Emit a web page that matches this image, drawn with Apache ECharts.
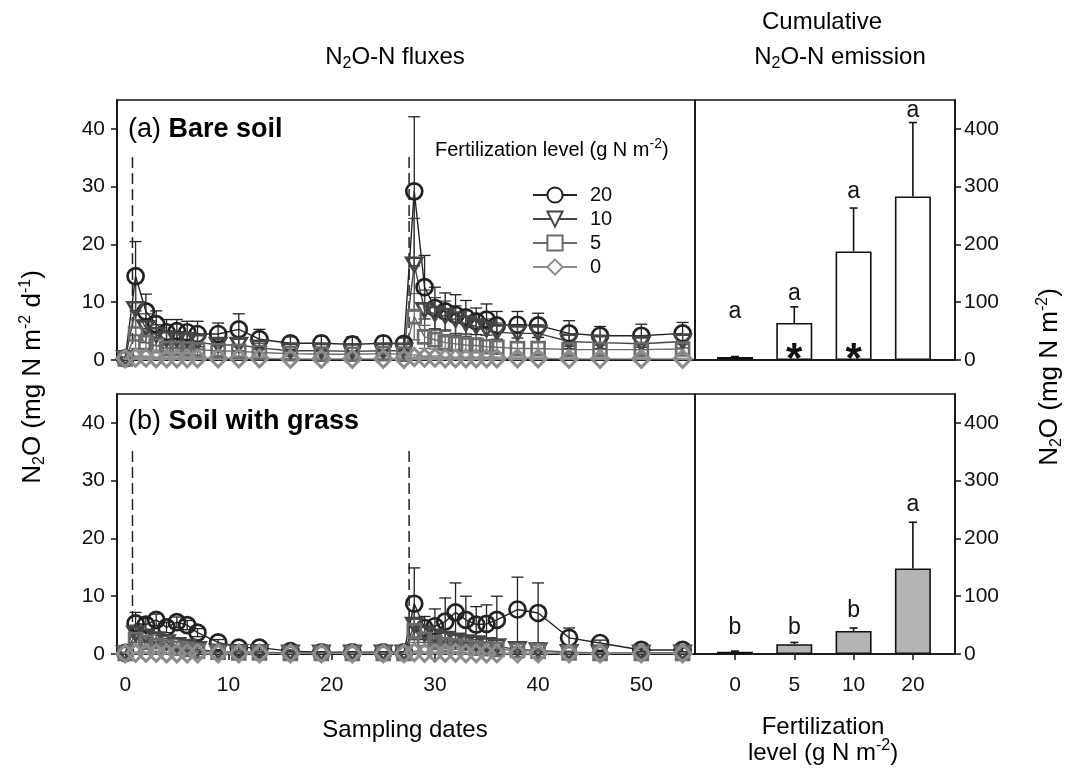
<!DOCTYPE html>
<html>
<head>
<meta charset="utf-8">
<script src="https://cdn.jsdelivr.net/npm/echarts@6/dist/echarts.min.js"></script>
<style>html,body{margin:0;padding:0;background:#fff}#c{width:1074px;height:774px}</style>
</head>
<body>
<div id="c"></div>
<script>
// ---------- data ----------
const dates = [0,1,2,3,4,5,6,7,9,11,13,16,19,22,25,27,28,29,30,31,32,33,34,35,36,38,40,43,46,50,54];
const fertDays = [0.7, 27.5];
const fertLevels = ['20','10','5','0'];

// (a) Bare soil fluxes (mg N m-2 d-1)
const bare20 = [0.3,14.5,8.4,6.2,4.8,5.0,4.8,4.5,4.5,5.3,3.6,2.9,2.9,2.7,2.9,2.8,29.2,12.6,9.0,8.4,7.8,7.4,6.7,7.0,6.0,6.1,6.0,4.6,4.2,4.2,4.6];
const bare20Err = [0.3,6.0,3.0,2.3,2.2,2.0,1.9,2.2,1.9,2.7,1.7,1.1,1.2,1.3,1.2,1.0,12.9,5.5,3.6,3.2,3.5,2.9,2.3,2.7,2.4,2.3,2.1,2.2,1.6,2.0,1.9];
const bare10 = [0.3,8.8,5.5,4.3,3.6,3.5,3.4,3.1,2.6,2.6,2.1,1.6,1.6,1.5,1.6,1.6,16.5,8.6,8.0,7.6,7.0,6.3,5.8,5.3,4.8,4.6,4.6,3.2,3.0,2.8,3.2];
const bare10Err = [0.2,4.5,2.5,1.8,1.5,1.4,1.3,1.2,1.0,1.0,0.8,0.6,0.6,0.6,0.6,0.6,8.0,3.5,2.8,2.6,2.4,2.2,2.0,1.8,1.6,1.5,1.5,1.2,1.0,1.0,1.1];
const bare5 = [0.2,4.5,3.0,2.5,2.0,2.0,1.9,1.8,1.6,1.5,1.3,1.1,1.0,1.0,1.1,1.0,7.5,4.0,3.5,3.0,2.8,2.6,2.5,2.3,2.2,2.0,2.0,1.8,1.8,1.8,1.9];
const bare5Err = [0.2,2.5,1.5,1.2,1.0,1.0,0.9,0.9,0.8,0.8,0.6,0.5,0.5,0.5,0.5,0.5,4.0,2.0,1.6,1.4,1.3,1.2,1.2,1.1,1.0,1.0,1.0,0.8,0.8,0.8,0.8];
const bare0 = [0.3,0.4,0.4,0.3,0.3,0.3,0.3,0.3,0.3,0.3,0.3,0.2,0.2,0.2,0.2,0.2,0.5,0.4,0.4,0.3,0.3,0.3,0.3,0.3,0.3,0.3,0.3,0.2,0.2,0.2,0.2];
const bare0Err = [0.2,0.3,0.3,0.2,0.2,0.2,0.2,0.2,0.2,0.2,0.2,0.1,0.1,0.1,0.1,0.1,0.4,0.3,0.3,0.2,0.2,0.2,0.2,0.2,0.2,0.2,0.2,0.1,0.1,0.1,0.1];

// (b) Soil with grass fluxes
const grass20 = [0.2,5.3,5.1,5.9,4.6,5.5,5.0,3.7,2.0,1.1,1.1,0.5,0.3,0.3,0.3,0.3,8.7,4.5,4.8,5.6,7.2,5.9,5.1,5.2,5.9,7.7,7.1,2.8,1.9,0.7,0.7];
const grass20Err = [0.1,1.9,1.0,1.0,0.9,0.9,0.8,0.7,0.5,0.4,0.4,0.2,0.1,0.1,0.1,0.1,6.2,2.0,3.0,4.1,5.1,4.1,3.1,3.3,4.1,5.6,5.2,1.7,0.5,0.3,0.3];
const grass10 = [0.1,3.5,3.0,2.5,2.0,1.5,1.2,0.8,0.4,0.3,0.3,0.2,0.2,0.2,0.2,0.2,5.0,3.5,3.0,2.6,2.3,2.0,1.8,1.5,1.3,0.8,0.6,0.3,0.2,0.2,0.2];
const grass10Err = [0.1,1.5,1.0,0.8,0.7,0.5,0.4,0.3,0.2,0.1,0.1,0.1,0.1,0.1,0.1,0.1,2.5,1.5,1.2,1.0,0.9,0.8,0.7,0.6,0.5,0.4,0.3,0.2,0.1,0.1,0.1];
const grass5 = [0.1,2.5,2.0,1.5,1.2,1.0,0.8,0.5,0.3,0.2,0.2,0.1,0.1,0.1,0.1,0.1,4.0,2.5,2.0,1.6,1.4,1.2,1.0,0.9,0.8,0.6,0.5,0.2,0.1,0.1,0.1];
const grass5Err = [0.1,1.0,0.8,0.6,0.5,0.4,0.3,0.2,0.1,0.1,0.1,0.1,0.1,0.1,0.1,0.1,2.0,1.2,0.9,0.7,0.6,0.5,0.4,0.4,0.3,0.3,0.2,0.1,0.1,0.1,0.1];
const grass0 = [0.1,0.2,0.2,0.2,0.1,0.1,0.1,0.1,0.1,0.1,0.1,0.1,0.1,0.1,0.1,0.1,0.3,0.2,0.2,0.2,0.2,0.1,0.1,0.1,0.1,0.1,0.1,0.1,0.1,0.1,0.1];
const grass0Err = [0.1,0.1,0.1,0.1,0.1,0.1,0.1,0.1,0.1,0.1,0.1,0.1,0.1,0.1,0.1,0.1,0.2,0.1,0.1,0.1,0.1,0.1,0.1,0.1,0.1,0.1,0.1,0.1,0.1,0.1,0.1];

// Cumulative emission (mg N m-2)
const cumCats = ['0','5','10','20'];
const bareCum = [5, 64, 188, 283];
const bareCumErr = [1, 28, 75, 128];
const bareLetters = ['a','a','a','a'];
const bareLetterAt = [83, 114, 291, 431];
const bareStarIdx = [1, 2];
const grassCum = [4, 17, 40, 148];
const grassCumErr = [1, 3, 5, 80];
const grassLetters = ['b','b','b','a'];
const grassLetterAt = [45, 45, 75, 258];

const fluxTicks = [0,10,20,30,40];
const cumTicks = [0,100,200,300,400];
const dayTicks = [0,10,20,30,40,50];

// ---------- styling ----------
const FONT = '"Liberation Sans", Arial, Helvetica, sans-serif';
const colors = {'20':'#222222','10':'#454545','5':'#6b6b6b','0':'#8c8c8c'};
const symbols = {'20':'circle','10':'path://M0,0 L10,0 L5,8.66 Z','5':'rect','0':'diamond'};
const symSize = {'20':16,'10':16,'5':13,'0':17};
const symStroke = {'20':2.7,'10':2.7,'5':2.6,'0':3};

const rich = {
  n:{fontSize:24,fontFamily:FONT,lineHeight:30,verticalAlign:'middle',color:'#111'},
  y:{fontSize:26,fontFamily:FONT,lineHeight:30,verticalAlign:'middle',color:'#111'},
  b:{fontSize:27,fontFamily:FONT,lineHeight:32,verticalAlign:'middle',fontWeight:'bold',color:'#111'},
  m:{fontSize:27,fontFamily:FONT,lineHeight:32,verticalAlign:'middle',color:'#111'},
  l:{fontSize:20,fontFamily:FONT,lineHeight:26,verticalAlign:'middle',color:'#111'},
  sub:{fontSize:16,fontFamily:FONT,lineHeight:14,verticalAlign:'bottom',color:'#111'},
  sup:{fontSize:16,fontFamily:FONT,lineHeight:15,verticalAlign:'top',color:'#111'},
  lsup:{fontSize:14,fontFamily:FONT,lineHeight:14,verticalAlign:'top',color:'#111'}
};

function fluxSeries(grid, vals, errs, lvl){
  const c = colors[lvl];
  return [{
    type:'custom', xAxisIndex:grid, yAxisIndex:grid, z:2, silent:true,
    data: dates.map((d,i)=>[d, vals[i], errs[i]]),
    renderItem:(p, api)=>{
      const x=api.value(0), m=api.value(1), e=api.value(2);
      const t=api.coord([x,m+e]);
      const lowV=Math.max(0,m-e);
      const b=api.coord([x,lowV]);
      const hw=6, st={stroke:c,lineWidth:1.3};
      const ch=[
        {type:'line',shape:{x1:t[0],y1:t[1],x2:b[0],y2:b[1]},style:st},
        {type:'line',shape:{x1:t[0]-hw,y1:t[1],x2:t[0]+hw,y2:t[1]},style:st}
      ];
      if (m-e>0) ch.push({type:'line',shape:{x1:b[0]-hw,y1:b[1],x2:b[0]+hw,y2:b[1]},style:st});
      return {type:'group',children:ch};
    }
  },{
    type:'line', name:lvl, xAxisIndex:grid, yAxisIndex:grid, z:3,
    data: dates.map((d,i)=>[d, vals[i]]),
    symbol:symbols[lvl], symbolSize:symSize[lvl], symbolKeepAspect:true,
    lineStyle:{color:c,width:1.4},
    itemStyle:{color:'rgba(255,255,255,0)',borderColor:c,borderWidth:symStroke[lvl]},
    emphasis:{disabled:true}, silent:true
  }];
}

function fertLines(grid){
  return {
    type:'custom', xAxisIndex:grid, yAxisIndex:grid, z:1, silent:true,
    data: fertDays.map(d=>[d,36]),
    renderItem:(p,api)=>{
      const a=api.coord([api.value(0),0]), b=api.coord([api.value(0),api.value(1)]);
      return {type:'line',shape:{x1:a[0],y1:a[1],x2:b[0],y2:b[1]},style:{stroke:'#222',lineWidth:1.5,lineDash:[11,5]}};
    }
  };
}

function cumSeries(grid, vals, errs, letters, letterAt, fill){
  return [{
    type:'bar', xAxisIndex:grid, yAxisIndex:grid, barWidth:36, z:2, silent:true,
    data: vals.map((v,i)=>[i,v]),
    itemStyle:{color:fill,borderColor:'#111',borderWidth:1.6}
  },{
    type:'custom', xAxisIndex:grid, yAxisIndex:grid, z:3, silent:true,
    data: vals.map((v,i)=>[i,v,errs[i]]),
    renderItem:(p,api)=>{
      const x=api.value(0), m=api.value(1), e=api.value(2);
      const b=api.coord([x,m]), t=api.coord([x,m+e]);
      const st={stroke:'#111',lineWidth:1.6};
      return {type:'group',children:[
        {type:'line',shape:{x1:b[0],y1:b[1],x2:t[0],y2:t[1]},style:st},
        {type:'line',shape:{x1:t[0]-4,y1:t[1],x2:t[0]+4,y2:t[1]},style:st}
      ]};
    }
  },{
    type:'custom', xAxisIndex:grid, yAxisIndex:grid, z:4, silent:true,
    data: letterAt.map((v,i)=>[i,v]),
    renderItem:(p,api)=>{
      const pt=api.coord([api.value(0),api.value(1)]);
      return {type:'text',x:pt[0],y:pt[1],style:{text:letters[p.dataIndex],font:'23px '+FONT,fill:'#111',align:'center',verticalAlign:'middle'}};
    }
  }];
}

function starSeries(grid, idxs){
  return {
    type:'custom', xAxisIndex:grid, yAxisIndex:grid, z:5, silent:true,
    data: idxs.map(i=>[i,0]),
    renderItem:(p,api)=>{
      const pt=api.coord([api.value(0),0]);
      return {type:'text',x:pt[0],y:pt[1],style:{text:'*',font:'bold 42px '+FONT,fill:'#111',align:'center',verticalAlign:'middle'}};
    }
  };
}

const axisBase = {
  axisLine:{show:true,onZero:false,lineStyle:{color:'#111',width:1.6}},
  splitLine:{show:false}
};
const tickStyle = {show:true,length:6,lineStyle:{color:'#111',width:1.5}};
const labelStyle = {color:'#111',fontSize:21,fontFamily:FONT};

const grids = [
  {left:117,top:100,width:578,height:260},
  {left:695,top:100,width:260,height:260},
  {left:117,top:394,width:578,height:260},
  {left:695,top:394,width:260,height:260}
].map(g=>Object.assign(g,{show:true,borderColor:'#111',borderWidth:1.6,backgroundColor:'transparent'}));

const xAxes = [
  Object.assign({type:'value',gridIndex:0,min:-0.8,max:55.2,axisTick:{show:false},axisLabel:{show:false}},axisBase),
  Object.assign({type:'value',gridIndex:1,min:-0.674,max:3.71,axisTick:{show:false},axisLabel:{show:false}},axisBase),
  Object.assign({type:'value',gridIndex:2,min:-0.8,max:55.2,
    axisTick:Object.assign({customValues:dayTicks},tickStyle),
    axisLabel:Object.assign({customValues:dayTicks,margin:21},labelStyle)},axisBase),
  Object.assign({type:'value',gridIndex:3,min:-0.674,max:3.71,
    axisTick:Object.assign({customValues:[0,1,2,3]},tickStyle),
    axisLabel:Object.assign({customValues:[0,1,2,3],margin:21,formatter:v=>cumCats[Math.round(v)]},labelStyle)},axisBase)
];
const yAxes = [
  Object.assign({type:'value',gridIndex:0,min:0,max:45,position:'left',
    axisTick:Object.assign({customValues:fluxTicks},tickStyle),
    axisLabel:Object.assign({customValues:fluxTicks,margin:12},labelStyle)},axisBase),
  Object.assign({type:'value',gridIndex:1,min:0,max:450,position:'right',
    axisTick:Object.assign({customValues:cumTicks},tickStyle),
    axisLabel:Object.assign({customValues:cumTicks,margin:9},labelStyle)},axisBase),
  Object.assign({type:'value',gridIndex:2,min:0,max:45,position:'left',
    axisTick:Object.assign({customValues:fluxTicks},tickStyle),
    axisLabel:Object.assign({customValues:fluxTicks,margin:12},labelStyle)},axisBase),
  Object.assign({type:'value',gridIndex:3,min:0,max:450,position:'right',
    axisTick:Object.assign({customValues:cumTicks},tickStyle),
    axisLabel:Object.assign({customValues:cumTicks,margin:9},labelStyle)},axisBase)
];

const series = [
  fertLines(0), fertLines(2),
  ...fluxSeries(0,bare20,bare20Err,'20'),
  ...fluxSeries(0,bare10,bare10Err,'10'),
  ...fluxSeries(0,bare5,bare5Err,'5'),
  ...fluxSeries(0,bare0,bare0Err,'0'),
  ...fluxSeries(2,grass20,grass20Err,'20'),
  ...fluxSeries(2,grass10,grass10Err,'10'),
  ...fluxSeries(2,grass5,grass5Err,'5'),
  ...fluxSeries(2,grass0,grass0Err,'0'),
  ...cumSeries(1,bareCum,bareCumErr,bareLetters,bareLetterAt,'#ffffff'),
  starSeries(1,bareStarIdx),
  ...cumSeries(3,grassCum,grassCumErr,grassLetters,grassLetterAt,'#b4b4b4')
];

function txt(x,y,text,align,rot){
  const g = {type:'text',x:x,y:y,silent:true,style:{text:text,rich:rich,align:align||'center',verticalAlign:'middle'}};
  if (rot) g.rotation = rot;
  return g;
}

const option = {
  animation:false,
  backgroundColor:'#ffffff',
  textStyle:{fontFamily:FONT},
  grid:grids, xAxis:xAxes, yAxis:yAxes, series:series,
  legend:{
    show:true, orient:'vertical', left:527, top:180, itemWidth:44, itemHeight:19, itemGap:4,
    data: fertLevels.map(l=>({name:l,itemStyle:{color:'#ffffff'}})),
    textStyle:{color:'#111',fontSize:20,fontFamily:FONT,padding:[0,0,0,8]},
    selectedMode:false
  },
  graphic:[
    txt(395,57,'{n|N}{sub|2}{n|O-N fluxes}'),
    txt(822,22,'{n|Cumulative}'),
    txt(840,57,'{n|N}{sub|2}{n|O-N emission}'),
    txt(405,730,'{n|Sampling dates}'),
    txt(823,727,'{n|Fertilization}'),
    txt(823,753,'{n|level (g N m}{sup|-2}{n|)}'),
    txt(128,130,'{m|(a) }{b|Bare soil}','left'),
    txt(128,422,'{m|(b) }{b|Soil with grass}','left'),
    txt(435,150,'{l|Fertilization level (g N m}{lsup|-2}{l|)}','left'),
    txt(33,377,'{y|N}{sub|2}{y|O (mg N m}{sup|-2}{y| d}{sup|-1}{y|)}','center',Math.PI/2),
    txt(1050,377,'{y|N}{sub|2}{y|O (mg N m}{sup|-2}{y|)}','center',Math.PI/2)
  ]
};
const chart = echarts.init(document.getElementById('c'),null,{renderer:'canvas'});
chart.setOption(option);
</script>
</body>
</html>
